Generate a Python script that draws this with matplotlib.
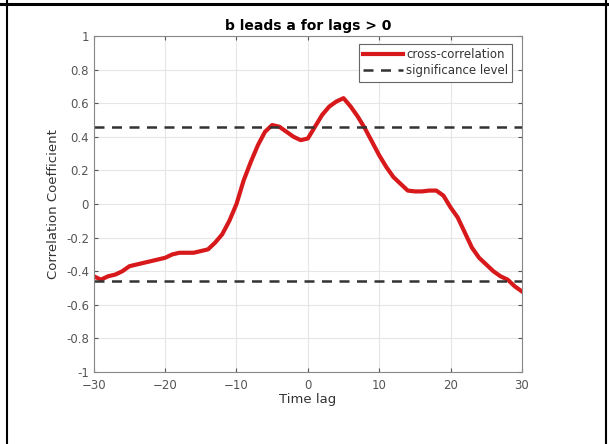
import numpy as np
import matplotlib
matplotlib.use("Agg")
import matplotlib.pyplot as plt
from matplotlib.lines import Line2D

lags = list(range(-30, 31))
xcorr = [-0.43, -0.45, -0.43, -0.42, -0.40, -0.37, -0.36, -0.35, -0.34, -0.33,
         -0.32, -0.30, -0.29, -0.29, -0.29, -0.28, -0.27, -0.23, -0.18, -0.10,
         0.00, 0.14, 0.25, 0.35, 0.43, 0.47, 0.46, 0.43, 0.40, 0.38,
         0.39, 0.46, 0.53, 0.58, 0.61, 0.63, 0.58, 0.52, 0.45, 0.37,
         0.29, 0.22, 0.16, 0.12, 0.08, 0.075, 0.075, 0.08, 0.08, 0.05,
         -0.02, -0.08, -0.17, -0.26, -0.32, -0.36, -0.40, -0.43, -0.45, -0.49,
         -0.52]
sig_level = 0.46

fig = plt.figure(figsize=(6.09, 4.44), dpi=100)
ax = fig.add_axes([0.154, 0.162, 0.703, 0.757])

ax.plot(lags, xcorr, color="#d7191c", lw=3, label="cross-correlation")
ax.axhline(sig_level, color="#333333", ls=(0, (4, 3)), lw=1.8, label="significance level")
ax.axhline(-sig_level, color="#333333", ls=(0, (4, 3)), lw=1.8)

ax.set_xlim(-30, 30)
ax.set_ylim(-1, 1)
ax.set_xticks(range(-30, 31, 10))
ax.set_yticks(np.arange(-1, 1.01, 0.2))
ax.set_yticklabels(["-1", "-0.8", "-0.6", "-0.4", "-0.2", "0", "0.2", "0.4", "0.6", "0.8", "1"])
ax.grid(True, color="#e6e6e6", lw=0.8)
ax.tick_params(direction="in", top=True, right=True, labelsize=8.5,
               colors="#555555", length=3)
ax.tick_params(axis="x", pad=5)
for s in ax.spines.values():
    s.set_color("#888888")

ax.set_title("b leads a for lags > 0", fontsize=10, fontweight="bold", pad=4)
ax.set_xlabel("Time lag", fontsize=9.5, color="#333333", labelpad=1)
ax.set_ylabel("Correlation Coefficient", fontsize=9.5, color="#333333")

leg = ax.legend(loc="upper right", bbox_to_anchor=(0.978, 0.975), fontsize=8.5,
                handlelength=3.4, borderpad=0.35, labelspacing=0.25,
                handletextpad=0.25, borderaxespad=0, fancybox=False, framealpha=1)
leg.get_frame().set_edgecolor("#666666")
leg.get_frame().set_linewidth(0.8)
for t in leg.get_texts():
    t.set_color("#333333")

# table cell borders around the figure
fig.add_artist(Line2D([0, 1], [1 - 4 / 444, 1 - 4 / 444], color="black", lw=2.2))
fig.add_artist(Line2D([7 / 609, 7 / 609], [0, 1], color="black", lw=1.5))
fig.add_artist(Line2D([606 / 609, 606 / 609], [0, 1], color="black", lw=1.5))

fig.savefig("out.png", dpi=100)
